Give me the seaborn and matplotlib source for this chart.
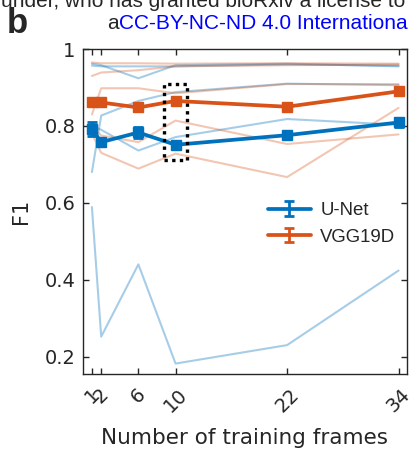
import numpy as np
import pandas as pd
import matplotlib
matplotlib.use("Agg")
import matplotlib.pyplot as plt
import seaborn as sns
from matplotlib.container import ErrorbarContainer
from matplotlib.legend_handler import HandlerErrorbar
from matplotlib.patches import Rectangle

# ---------------- data ----------------
frames = [1, 2, 6, 10, 22, 34]
xtick_labels = ["1", "2", "6", "10", "22", "34"]
ytick_values = [0.2, 0.4, 0.6, 0.8, 1.0]
ytick_labels = ["0.2", "0.4", "0.6", "0.8", "1"]

unet_mean = [0.792, 0.758, 0.783, 0.751, 0.776, 0.809]
unet_err = [0.018, 0.011, 0.015, 0.010, 0.010, 0.011]
vgg_mean = [0.862, 0.861, 0.848, 0.865, 0.850, 0.890]
vgg_err = [0.008, 0.007, 0.008, 0.008, 0.006, 0.006]

unet_set_a = [0.962, 0.958, 0.924, 0.958, 0.962, 0.955]
unet_set_b = [0.957, 0.955, 0.955, 0.955, 0.960, 0.957]
unet_set_c = [0.680, 0.827, 0.865, 0.888, 0.910, 0.906]
unet_set_d = [0.800, 0.790, 0.736, 0.771, 0.818, 0.803]
unet_set_e = [0.589, 0.252, 0.440, 0.182, 0.230, 0.424]

vgg_set_a = [0.965, 0.963, 0.963, 0.962, 0.963, 0.962]
vgg_set_b = [0.930, 0.939, 0.945, 0.955, 0.958, 0.960]
vgg_set_c = [0.830, 0.898, 0.898, 0.885, 0.909, 0.909]
vgg_set_d = [0.800, 0.775, 0.758, 0.814, 0.753, 0.778]
vgg_set_e = [0.780, 0.730, 0.689, 0.728, 0.667, 0.847]

highlight_frame = 10
series_names = ["U-Net", "VGG19D"]

# ---------------- styling ----------------
sns.set_style("ticks")
plt.rcParams["font.family"] = ["DejaVu Sans"]
BLUE = "#0072BD"
ORANGE = "#D95319"
DARK = "#262626"

def long_df(sets, model):
    rows = []
    for i, s in enumerate(sets):
        for f, v in zip(frames, s):
            rows.append({"frames": f, "F1": v, "set": f"{model}{i}"})
    return pd.DataFrame(rows)

unet_df = long_df([unet_set_a, unet_set_b, unet_set_c, unet_set_d, unet_set_e], "u")
vgg_df = long_df([vgg_set_a, vgg_set_b, vgg_set_c, vgg_set_d, vgg_set_e], "v")

fig = plt.figure(figsize=(4.09, 4.5), dpi=100)
ax = fig.add_axes([0.202, 0.169, 0.793, 0.722])

sns.lineplot(data=unet_df, x="frames", y="F1", units="set", estimator=None,
             color=BLUE, alpha=0.35, lw=1.5, ax=ax, legend=False, zorder=1)
sns.lineplot(data=vgg_df, x="frames", y="F1", units="set", estimator=None,
             color=ORANGE, alpha=0.33, lw=1.5, ax=ax, legend=False, zorder=1)

eb_u = ax.errorbar(frames, unet_mean, yerr=unet_err, color=BLUE, lw=2.7,
                   marker="s", ms=7.5, elinewidth=2.0, capsize=3.8, capthick=2.0,
                   zorder=4)
eb_v = ax.errorbar(frames, vgg_mean, yerr=vgg_err, color=ORANGE, lw=2.7,
                   marker="s", ms=7.5, elinewidth=2.0, capsize=3.8, capthick=2.0,
                   zorder=3)

# dotted highlight box around the 10-frame condition
ax.add_patch(Rectangle((highlight_frame - 1.2, 0.712), 2.45, 0.197,
                       fill=False, ec="black", lw=2.4, ls=(0, (1, 1.3)),
                       zorder=6))

ax.set_xlim(0, 34.9)
ax.set_ylim(0.155, 1.0)
ax.set_xticks(frames)
ax.set_xticklabels(xtick_labels, rotation=45, ha="center", fontsize=14, color=DARK)
ax.set_yticks(ytick_values)
ax.set_yticklabels(ytick_labels, fontsize=14, color=DARK)
ax.tick_params(direction="in", top=True, right=True, length=4, width=1,
               color=DARK)
ax.tick_params(axis="x", pad=8)
ax.tick_params(axis="y", pad=5)
for sp in ax.spines.values():
    sp.set_visible(True)
    sp.set_color(DARK)
    sp.set_linewidth(1)
ax.set_xlabel("Number of training frames", fontsize=15.5, color=DARK, labelpad=9)
ax.set_ylabel("F1", fontsize=15, color=DARK, labelpad=10)


class NoMarkerErrorbar(HandlerErrorbar):
    def create_artists(self, *args, **kwargs):
        arts = super().create_artists(*args, **kwargs)
        arts[-1].set_visible(False)
        return arts


leg = ax.legend([eb_u, eb_v], series_names, frameon=False, loc="center left",
                bbox_to_anchor=(0.52, 0.462), handlelength=2.3,
                handletextpad=0.5, labelspacing=0.5,
                prop={"family": "Liberation Sans", "size": 13.4},
                handler_map={ErrorbarContainer: NoMarkerErrorbar(xerr_size=0.4)})

# header texts
fig.text(0.017, 0.927, "b", fontsize=25, fontweight="bold",
         family="Liberation Sans", va="baseline")
fig.text(0.99, 0.984, "author/funder, who has granted bioRxiv a license to",
         fontsize=15, family="Liberation Sans", ha="right", va="baseline")
t_a = fig.text(0.262, 0.936, "a", fontsize=15, family="Liberation Sans",
               va="baseline")
ax.annotate("CC-BY-NC-ND 4.0 International", xy=(1, 0), xycoords=t_a,
            va="bottom", ha="left", fontsize=15, family="Liberation Sans",
            color="#0000FF", annotation_clip=False)

fig.savefig("out.png", dpi=100)
